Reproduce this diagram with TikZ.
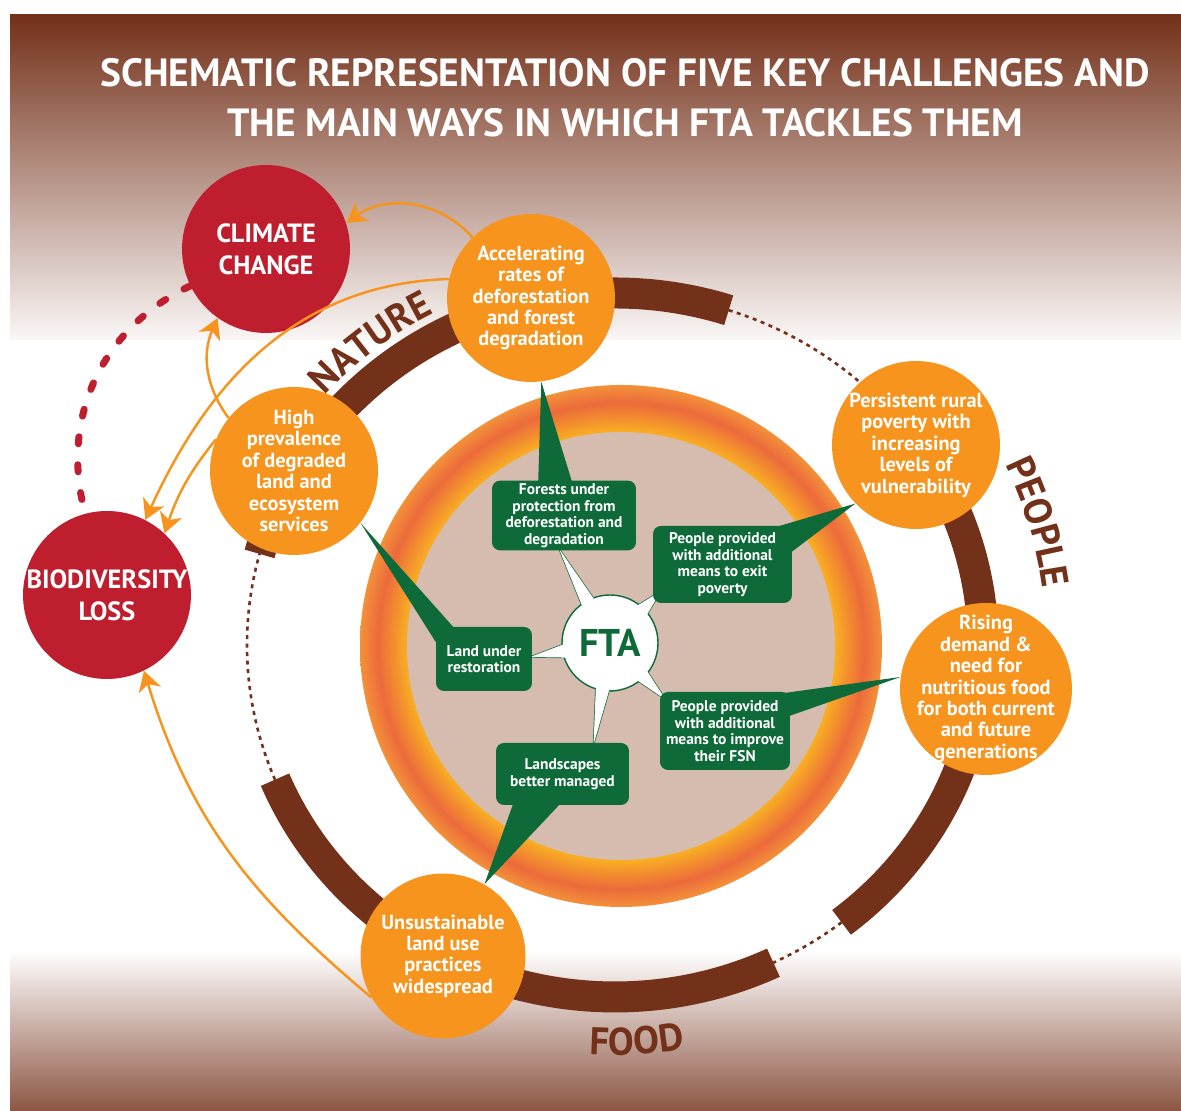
\documentclass[tikz,border=0pt]{standalone}
\usepackage{fontspec}
\setmainfont{PT Sans}
\usetikzlibrary{arrows.meta,calc,decorations.text}

\definecolor{ringbrown}{HTML}{74311A}
\definecolor{ftaorange}{HTML}{F7941D}
\definecolor{threatred}{HTML}{BE1E2D}
\definecolor{ftagreen}{HTML}{0F6A3A}
\definecolor{corebeige}{HTML}{D5BCAE}
\definecolor{glowouter}{HTML}{F39139}
\definecolor{glowmid}{HTML}{EC6A3B}
\definecolor{glowinner}{HTML}{F9B122}

\newcommand\headfont{\fontsize{22.4}{28.3}\selectfont\bfseries}
\newcommand\challengefont{\fontsize{11.6}{12.2}\selectfont\bfseries}
\newcommand\threatfont{\fontsize{15}{18}\selectfont\bfseries}
\newcommand\outcomefont{\fontsize{8.8}{9.4}\selectfont\bfseries}
\newcommand\ringfont{\fontsize{22}{24}\selectfont\bfseries\color{ringbrown}}
\newcommand\ftafont{\fontsize{22}{24}\selectfont\bfseries}

% orange glow round the core
\pgfdeclareradialshading{ftaglow}{\pgfpoint{0bp}{0bp}}{%
  color(0bp)=(glowinner); color(20.4bp)=(glowinner);
  color(23.3bp)=(glowmid); color(25bp)=(glowouter); color(50bp)=(glowouter)}

\pgfdeclarelayer{tails}
\pgfdeclarelayer{front}
\pgfsetlayers{main,tails,front}

\tikzset{
  challenge/.style={circle,fill=ftaorange,text=white,minimum size=3.36cm,
    inner sep=-0.6cm,align=center,font=\challengefont},
  threat/.style={circle,fill=threatred,text=white,minimum size=3.36cm,
    inner sep=-0.6cm,align=center,font=\threatfont},
  outcome/.style={rectangle,rounded corners=0.16cm,fill=ftagreen,text=white,
    inner sep=0.06cm,align=center,font=\outcomefont},
  ftacore/.style={circle,fill=white,draw=ftagreen,line width=0.8pt,
    minimum size=1.92cm,inner sep=0pt,text=ftagreen,font=\ftafont},
  spike/.style={fill=white,draw=ftagreen,line width=0.8pt},
  ringband/.style={draw=ringbrown,line width=0.62cm},
  gapline/.style={draw=ringbrown,line width=1.5pt,dash pattern=on 0.08cm off 0.09cm},
  impact/.style={draw=ftaorange,line width=1.4pt,
    -{Stealth[length=0.4cm,width=0.46cm,inset=0.12cm]}},
  link/.style={draw=threatred,line width=0.14cm,line cap=round,
    dash pattern=on 0.14cm off 0.42cm},
  headline/.style={text=white,font=\headfont,align=center}
}

\begin{document}
\begin{tikzpicture}[x=0.02cm,y=0.02cm]
\useasboundingbox (0,0) rectangle (1181,1111);

% background bands
\fill[white] (0,0) rectangle (1181,1111);
\shade[top color=ringbrown,bottom color=white!96!ringbrown] (10,771) rectangle (1181,1096);
\shade[top color=white,bottom color=ringbrown!82!white] (10,0) rectangle (1181,160);

% core disc with glow
\shade[shading=ftaglow] (621,465) circle[radius=261];
\fill[corebeige] (621,465) circle[radius=214];

% outer ring: three bands joined by dotted gaps
\coordinate (ring) at (615,466);
\foreach \a/\b in {165/72, 35/-52, -64.5/-157.5}
  \draw[ringband] ($(ring)+(\a:368 and 352)$) arc[start angle=\a,end angle=\b,x radius=368,y radius=352];
\foreach \a/\b in {72/35, -52/-64.5, 202.5/165}
  \draw[gapline] ($(ring)+(\a:368 and 352)$) arc[start angle=\a,end angle=\b,x radius=368,y radius=352];

\path[decorate,decoration={text along path,text align=center,text={|\ringfont|NATURE}}]
  ($(ring)+(150:390 and 374)$) arc[start angle=150,end angle=106,x radius=390,y radius=374];
\path[decorate,decoration={text along path,text align=center,text={|\ringfont|PEOPLE}}]
  ($(ring)+(40:432 and 420)$) arc[start angle=40,end angle=-7,x radius=432,y radius=420];
\path[decorate,decoration={text along path,text align=center,text={|\ringfont|FOOD}}]
  ($(ring)+(258:426 and 410)$) arc[start angle=258,end angle=288,x radius=426,y radius=410];

% challenges
\node[threat] (climate) at (266,862) {CLIMATE\\CHANGE};
\node[threat] (biodiv) at (107,516) {BIODIVERSITY\\LOSS};
\node[challenge] (deforest) at (531,813) {Accelerating\\rates of\\deforestation\\and forest\\degradation};
\node[challenge] (degraded) at (294,640) {High\\prevalence\\of degraded\\land and\\ecosystem\\services};
\node[challenge] (poverty) at (916,666) {Persistent rural\\poverty with\\increasing\\levels of\\vulnerability};
\node[challenge,minimum size=3.44cm] (demand) at (986,422) {Rising\\demand \&\\need for\\nutritious food\\for both current\\and future\\generations};
\node[challenge,minimum size=3.3cm] (landuse) at (443,155) {Unsustainable\\land use\\practices\\widespread};

% outcomes
\begin{pgfonlayer}{front}
\node[outcome,minimum width=2.88cm,minimum height=1.34cm] (forests) at (564,595.5) {Forests under\\protection from\\deforestation and\\degradation};
\node[outcome,minimum width=2.78cm,minimum height=1.54cm] (income) at (722.5,546.5) {People provided\\with additional\\means to exit\\poverty};
\node[outcome,minimum width=1.92cm,minimum height=1.28cm] (restore) at (484,452) {Land under\\restoration};
\node[outcome,minimum width=2.6cm,minimum height=1.56cm] (nutrition) at (725,380) {People provided\\with additional\\means to improve\\their FSN};
\node[outcome,minimum width=2.66cm,minimum height=1.24cm] (landscape) at (562.5,337) {Landscapes\\better managed};
\end{pgfonlayer}

% tails from the outcomes to the challenges
\begin{pgfonlayer}{tails}
\fill[ftagreen] ($(forests.north)+(-26,-8)$) -- (deforest.-83) -- ($(forests.north)+(10,-8)$) -- cycle;
\fill[ftagreen] ($(income.north east)+(-22,-3)$) -- (poverty.224) -- ($(income.north east)+(-3,-28)$) -- cycle;
\fill[ftagreen] ($(restore.north west)+(20,-3)$) -- (degraded.-38) -- ($(restore.north west)+(3,-20)$) -- cycle;
\fill[ftagreen] ($(nutrition.north east)+(-18,-3)$) -- (demand.172) -- ($(nutrition.north east)+(-3,-25)$) -- cycle;
\fill[ftagreen] ($(landscape.south west)+(18,3)$) -- (landuse.60) -- ($(landscape.south west)+(66,3)$) -- cycle;
\end{pgfonlayer}

% FTA star
\coordinate (core) at (610,468);
\coordinate (tforests) at ($(forests.south)+(-5,2)$);
\coordinate (tincome) at ($(income.south west)+(8,12)$);
\coordinate (trestore) at ($(restore.east)+(-2,2)$);
\coordinate (tnutrition) at ($(nutrition.north west)+(6,-8)$);
\coordinate (tlandscape) at ($(landscape.north)+(31,-2)$);
\foreach \t in {tforests,tincome,trestore,tnutrition,tlandscape}
  \filldraw[spike] ($(core)!0.9cm!9:(\t)$) -- (\t) -- ($(core)!0.9cm!-9:(\t)$) -- cycle;
\node[ftacore] (fta) at (core) {FTA};
\foreach \t in {tforests,tincome,trestore,tnutrition,tlandscape}
  \fill[white] ($(core)!0.9cm!9:(\t)$) -- (\t) -- ($(core)!0.9cm!-9:(\t)$) -- cycle;

% feedbacks
\draw[impact] (deforest.134) to[bend right=42] (climate.18);
\draw[impact] (degraded.141) to[bend left=30] (climate.235);
\draw[impact] (deforest.167) .. controls +(-165,-5) and +(55,120) .. (biodiv.63);
\draw[impact] (degraded.158) to[bend right=10] (biodiv.47);
\draw[impact] (landuse.210) to[out=140,in=-73] (biodiv.-64);
\draw[link] (climate.206) to[bend right=40] (biodiv.105);

\node[headline] (title) at (625,1013) {SCHEMATIC REPRESENTATION OF FIVE KEY CHALLENGES AND\\THE MAIN WAYS IN WHICH FTA TACKLES THEM};
\end{tikzpicture}
\end{document}
